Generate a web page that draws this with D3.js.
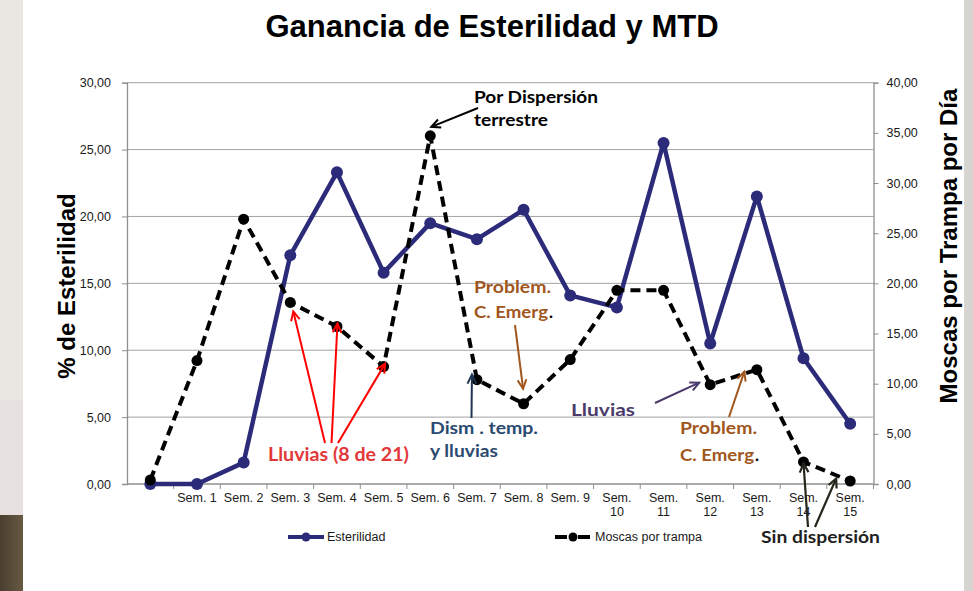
<!DOCTYPE html>
<html><head><meta charset="utf-8">
<script src="https://cdn.jsdelivr.net/npm/d3@7"></script>
<style>html,body{margin:0;padding:0;background:#fff;overflow:hidden}</style>
</head><body><svg id="c" width="973" height="591"></svg>
<script>
// ---- data ----
const categories = ["", "Sem. 1", "Sem. 2", "Sem. 3", "Sem. 4", "Sem. 5", "Sem. 6", "Sem. 7", "Sem. 8", "Sem. 9", "Sem. 10", "Sem. 11", "Sem. 12", "Sem. 13", "Sem. 14", "Sem. 15"];
const esterilidad = [0, 0, 1.6, 17.1, 23.3, 15.8, 19.5, 18.3, 20.5, 14.1, 13.2, 25.5, 10.5, 21.5, 9.4, 4.5];
const moscas = [0.4, 12.3, 26.4, 18.1, 15.7, 11.7, 34.7, 10.4, 8.0, 12.4, 19.3, 19.3, 9.9, 11.4, 2.2, 0.3];
const leftTicks = [0, 5, 10, 15, 20, 25, 30];
const rightTicks = [0, 5, 10, 15, 20, 25, 30, 35, 40];
const seriesNames = ["Esterilidad", "Moscas por trampa"];
const titleText = "Ganancia de Esterilidad y MTD";
const leftTitle = "% de Esterilidad";
const rightTitle = "Moscas por Trampa por Día";

// ---- layout ----
const svg = d3.select("#c");
const L = 127, R = 873.5, T = 82.7, B = 484;
const loc = d3.formatLocale({decimal: ",", thousands: ".", grouping: [3], currency: ["", ""]});
const fmt = loc.format(".2f");
const axisFont = "'Liberation Sans', Arial, sans-serif";
const annFont = "Lato, 'Open Sans', sans-serif";

// background strips
svg.append("rect").attr("x", 0).attr("y", 0).attr("width", 23).attr("height", 515).attr("fill", "#e9e7e2");
const g0 = svg.append("defs").append("linearGradient").attr("id", "ph").attr("x1", 0).attr("x2", 1);
g0.append("stop").attr("offset", 0).attr("stop-color", "#4a3f30");
g0.append("stop").attr("offset", 1).attr("stop-color", "#665a42");
svg.append("rect").attr("x", 0).attr("y", 515).attr("width", 23).attr("height", 76).attr("fill", "url(#ph)");
svg.append("rect").attr("x", 0).attr("y", 400).attr("width", 23).attr("height", 115).attr("fill", "#e6e0e0").attr("opacity", 0.6);
svg.append("rect").attr("x", 964).attr("y", 0).attr("width", 9).attr("height", 591).attr("fill", "#d6d5d1");

const x = d3.scaleBand().domain(categories).range([L, R]).padding(0);
const bw = x.bandwidth();
const xc = i => x(categories[i]) + bw / 2;
const yL = d3.scaleLinear().domain([0, 30]).range([B, T]);
const yR = d3.scaleLinear().domain([0, 40]).range([B, T]);

// gridlines
svg.append("g").selectAll("line").data(leftTicks.filter(d => d > 0)).join("line")
  .attr("x1", L).attr("x2", R).attr("y1", d => yL(d)).attr("y2", d => yL(d))
  .attr("stroke", "#a3a3a3").attr("stroke-width", 1);

// left axis
const gl = svg.append("g").attr("transform", `translate(${L},0)`)
  .call(d3.axisLeft(yL).tickValues(leftTicks).tickFormat(fmt).tickSize(5).tickPadding(11));
// right axis
const gr = svg.append("g").attr("transform", `translate(${R},0)`)
  .call(d3.axisRight(yR).tickValues(rightTicks).tickFormat(fmt).tickSize(5).tickPadding(8));
// bottom axis (labels only, centred), boundary ticks separately
const gb = svg.append("g").attr("transform", `translate(0,${B})`)
  .call(d3.axisBottom(x).tickSize(0).tickPadding(9));
[gl, gr, gb].forEach(g => {
  g.select(".domain").attr("stroke", "#8f8f8f").attr("stroke-width", 1.3);
  g.selectAll(".tick line").attr("stroke", "#8f8f8f");
  g.selectAll("text").attr("font-family", axisFont).attr("font-size", 12.5).attr("fill", "#1a1a1a");
});
gb.select(".domain").attr("d", `M${L},0H${R}`);
gb.selectAll(".tick text").each(function(d) {
  const t = d3.select(this);
  if (d.length > 6) {
    const parts = d.split(" ");
    t.text(null);
    parts.forEach((p, k) => t.append("tspan").attr("x", 0).attr("dy", k === 0 ? "0.71em" : "1.15em").text(p));
    t.attr("dy", null);
  }
});
svg.append("g").selectAll("line").data(categories.slice(1).concat(["__end"])).join("line")
  .attr("x1", d => d === "__end" ? R : x(d)).attr("x2", d => d === "__end" ? R : x(d))
  .attr("y1", B).attr("y2", B + 5).attr("stroke", "#8f8f8f");

// titles
svg.append("text").attr("x", 492).attr("y", 37).attr("text-anchor", "middle")
  .attr("font-family", axisFont).attr("font-weight", "bold").attr("font-size", 31).attr("fill", "#000").text(titleText);
svg.append("text").attr("transform", "translate(67,286) rotate(-90)").attr("text-anchor", "middle").attr("dy", "0.35em")
  .attr("font-family", axisFont).attr("font-weight", "bold").attr("font-size", 24).attr("fill", "#000").text(leftTitle);
svg.append("text").attr("transform", "translate(949,246) rotate(-90)").attr("text-anchor", "middle").attr("dy", "0.35em")
  .attr("font-family", axisFont).attr("font-weight", "bold").attr("font-size", 24).attr("fill", "#000").text(rightTitle);

// series
const navy = "#2c2b7a";
const lineE = d3.line().x((d, i) => xc(i)).y(d => yL(d));
const lineM = d3.line().x((d, i) => xc(i)).y(d => yR(d));
svg.append("path").datum(esterilidad).attr("d", lineE).attr("fill", "none")
  .attr("stroke", navy).attr("stroke-width", 4.5).attr("stroke-linejoin", "round");
svg.append("g").selectAll("circle").data(esterilidad).join("circle")
  .attr("cx", (d, i) => xc(i)).attr("cy", d => yL(d)).attr("r", 6).attr("fill", navy);
svg.append("path").datum(moscas).attr("d", lineM).attr("fill", "none")
  .attr("stroke", "#000").attr("stroke-width", 4).attr("stroke-dasharray", "10,6");
svg.append("g").selectAll("circle").data(moscas).join("circle")
  .attr("cx", (d, i) => xc(i)).attr("cy", d => yR(d)).attr("r", 5.5).attr("fill", "#000");

// legend
const leg = svg.append("g");
leg.append("line").attr("x1", 288).attr("x2", 324).attr("y1", 537).attr("y2", 537).attr("stroke", navy).attr("stroke-width", 4);
leg.append("circle").attr("cx", 306).attr("cy", 537).attr("r", 4.5).attr("fill", navy);
leg.append("text").attr("x", 327).attr("y", 537).attr("dy", "0.35em").attr("font-family", axisFont).attr("font-size", 12.5).attr("fill", "#1a1a1a").text(seriesNames[0]);
leg.append("line").attr("x1", 555).attr("x2", 590).attr("y1", 537).attr("y2", 537).attr("stroke", "#000").attr("stroke-width", 4).attr("stroke-dasharray", "12,11,12");
leg.append("circle").attr("cx", 573).attr("cy", 537).attr("r", 4.5).attr("fill", "#000");
leg.append("text").attr("x", 595).attr("y", 537).attr("dy", "0.35em").attr("font-family", axisFont).attr("font-size", 12.5).attr("fill", "#1a1a1a").text(seriesNames[1]);

// annotations
const ann = svg.append("g");
function arrow(x1, y1, x2, y2, color, w) {
  ann.append("line").attr("x1", x1).attr("y1", y1).attr("x2", x2).attr("y2", y2)
    .attr("stroke", color).attr("stroke-width", w);
  const a = Math.atan2(y2 - y1, x2 - x1), h = 10, s = 0.45;
  const p = [[x2 - h * Math.cos(a - s), y2 - h * Math.sin(a - s)], [x2, y2], [x2 - h * Math.cos(a + s), y2 - h * Math.sin(a + s)]];
  ann.append("path").attr("d", d3.line()(p)).attr("fill", "none").attr("stroke", color)
    .attr("stroke-width", w).attr("stroke-linejoin", "miter").attr("stroke-linecap", "butt");
}
function label(tx, ty, str, color, len, size) {
  const t = ann.append("text").attr("x", tx).attr("y", ty).attr("dy", "0.35em")
    .attr("font-family", annFont).attr("font-weight", "bold").attr("font-size", size || 17).attr("fill", color).text(str);
  if (len) t.attr("textLength", len).attr("lengthAdjust", "spacingAndGlyphs");
  return t;
}
// Por Dispersión terrestre
label(474, 97, "Por Dispersión", "#000", 124);
label(474, 120, "terrestre", "#000", 74);
arrow(478, 108, xc(6) + 1, yR(moscas[6]) - 9, "#000", 2);
// Lluvias (8 de 21)
const red = "#ff0000";
label(268, 455, "Lluvias  (8 de 21)", "#e2383a", 141, 18);
arrow(325, 443, xc(3) + 3, yR(moscas[3]) + 9, red, 2);
arrow(331.5, 443, xc(4) + 0.5, yR(moscas[4]) - 3, red, 2);
arrow(338, 443, xc(5) + 1.5, yR(moscas[5]) - 3, red, 2);
// Dism . temp. y lluvias
label(430, 428, "Dism . temp.", "#2b4a70", 108);
label(430, 451, "y lluvias", "#2b4a70", 68);
arrow(471.5, 418, xc(7) - 5, yR(moscas[7]) - 5, "#1f3552", 2);
// Problem. C. Emerg. (1)
const brown = "#a1561d";
label(474, 287, "Problem.", brown, 77);
label(474, 312, "C. Emerg", brown, 74);
label(549, 312, ".", "#000", null);
arrow(515, 325, xc(8) - 0.5, yR(moscas[8]) - 15, brown, 2);
// Lluvias (purple)
label(571, 410, "Lluvias", "#4a3b6a", 64);
arrow(655, 403, xc(12) - 11, yR(moscas[12]) - 2, "#4a3b6a", 2);
// Problem. C. Emerg. (2)
label(680, 428, "Problem.", brown, 77);
label(680, 455, "C. Emerg", brown, 74);
label(755, 455, ".", "#000", null);
arrow(729, 417, xc(13) - 12.5, yR(moscas[13]) + 2, brown, 2);
// Sin dispersión
label(761, 537, "Sin dispersión", "#1f1f1f", 119);
arrow(808, 527, xc(14), yR(moscas[14]) + 1.5, "#26261c", 2.2);
arrow(815, 527, xc(15) - 14, yR(moscas[15]) - 2.5, "#26261c", 2.2);
</script></body></html>
